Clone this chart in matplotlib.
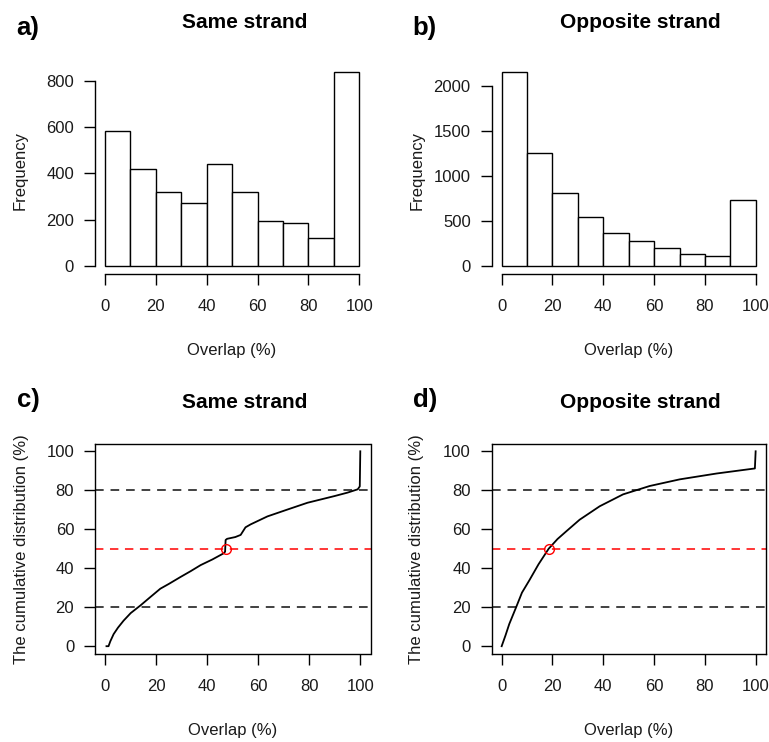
import numpy as np
import matplotlib.pyplot as plt

plt.rcParams['font.family'] = ['Liberation Sans', 'DejaVu Sans']

# histogram data (10% bins)
bin_edges = [0, 10, 20, 30, 40, 50, 60, 70, 80, 90, 100]
same_counts = [585, 418, 320, 273, 441, 320, 193, 187, 121, 840]
opp_counts = [2163, 1253, 807, 540, 361, 272, 197, 134, 105, 729]

# cumulative distribution, points
same_cum_x = [0.5, 1.3, 2.0, 3.3, 5.0, 7.2, 10.0, 13.8, 17.5, 21.6, 25.0, 29.5,
              33.5, 37.4, 42.0, 46.5, 47.0, 47.2, 47.8, 51.0, 53.1, 55.0, 57.0,
              63.6, 71.4, 79.3, 89.8, 95.0, 99.0, 99.8, 100.0]
same_cum_y = [0.0, 0.0, 2.5, 6.2, 9.5, 13.1, 17.0, 20.9, 25.0, 29.5, 32.0, 35.5,
              38.5, 41.6, 44.5, 47.7, 48.5, 54.5, 55.1, 56.0, 57.1, 61.0, 62.5,
              66.6, 70.1, 73.6, 77.0, 78.8, 80.5, 82.0, 100.0]
opp_cum_x = [0.0, 1.5, 3.0, 5.7, 8.0, 10.9, 14.5, 18.5, 22.0, 25.4, 30.7, 38.6,
             47.8, 58.3, 70.1, 84.6, 99.7, 100.0]
opp_cum_y = [0.0, 5.5, 11.4, 20.0, 27.5, 33.8, 42.0, 50.0, 55.0, 58.9, 64.9, 71.8,
             77.9, 82.2, 85.6, 88.6, 91.2, 100.0]
same_median = 47.2
opp_median = 18.7

W, H = 769, 742
fig = plt.figure(figsize=(W / 100, H / 100), dpi=100)


def px_axes(left, right, top, bottom):
    return fig.add_axes([left / W, 1 - bottom / H, (right - left) / W, (bottom - top) / H])


txt = '#1a1a1a'
tick_kw = dict(length=8, width=1, labelsize=12, labelcolor=txt)


def hist_panel(ax, counts, ymax, yticks):
    ax.bar(bin_edges[:-1], counts, width=10, align='edge', color='white',
           edgecolor='black', linewidth=1)
    ax.set_xlim(-4, 104)
    ax.set_ylim(-0.04 * max(counts), 1.04 * max(counts))
    for s in ('top', 'right'):
        ax.spines[s].set_visible(False)
    ax.spines['left'].set_bounds(0, ymax)
    ax.spines['bottom'].set_bounds(0, 100)
    for s in ('left', 'bottom'):
        ax.spines[s].set_linewidth(1)
    ax.set_xticks(range(0, 101, 20))
    ax.set_yticks(yticks)
    ax.tick_params(axis='x', pad=10, **tick_kw)
    ax.tick_params(axis='y', pad=7, **tick_kw)


def cum_panel(ax, x, y, med):
    ax.axhline(80, color='#333333', lw=1.3, ls=(0, (4.8, 3.8)))
    ax.axhline(20, color='#333333', lw=1.3, ls=(0, (4.8, 3.8)))
    ax.axhline(50, color='red', lw=1.1, ls=(0, (5.5, 4.3)))
    ax.plot(x, y, color='black', lw=1.3)
    ax.plot([med], [50], 'o', mfc='none', mec='red', ms=7, mew=1)
    ax.set_xlim(-4, 104)
    ax.set_ylim(-4, 104)
    for s in ax.spines.values():
        s.set_linewidth(1)
    ax.set_xticks(range(0, 101, 20))
    ax.set_yticks(range(0, 101, 20))
    ax.tick_params(axis='x', pad=10, **tick_kw)
    ax.tick_params(axis='y', pad=7, **tick_kw)


ax_a = px_axes(94.8, 369.5, 63.9, 273.5)
hist_panel(ax_a, same_counts, 800, range(0, 801, 200))
ax_b = px_axes(491.5, 765.9, 64, 273.5)
hist_panel(ax_b, opp_counts, 2000, range(0, 2001, 500))
ax_c = px_axes(95, 370.5, 443.5, 654)
cum_panel(ax_c, same_cum_x, same_cum_y, same_median)
ax_d = px_axes(491.5, 765.8, 443.5, 654)
cum_panel(ax_d, opp_cum_x, opp_cum_y, opp_median)


def ftext(x, y, s, **kw):
    fig.text(x / W, 1 - y / H, s, **kw)


# panel letters and titles
for lx, ly, lab in [(16.7, 28, 'a)'), (412.3, 28, 'b)'), (16.7, 400, 'c)'), (413, 400, 'd)')]:
    ftext(lx, ly, lab, fontsize=18.5, fontweight='bold', ha='left', va='center')
for tx, ty, t in [(244.5, 23, 'Same strand'), (640, 23, 'Opposite strand'),
                  (244.5, 402, 'Same strand'), (640, 402, 'Opposite strand')]:
    ftext(tx, ty, t, fontsize=15, fontweight='bold', ha='center', va='center')

# axis labels
for cx, cy in [(232, 350), (628.7, 350), (232.7, 730), (628.7, 730)]:
    ftext(cx, cy, 'Overlap (%)', fontsize=12, color=txt, ha='center', va='center')
ftext(20, 171, 'Frequency', fontsize=12, color=txt, rotation=90, ha='center', va='center')
ftext(417, 171, 'Frequency', fontsize=12, color=txt, rotation=90, ha='center', va='center')
ftext(21.7, 549, 'The cumulative distribution (%)', fontsize=12, color=txt,
      rotation=90, ha='center', va='center')
ftext(417, 549, 'The cumulative distribution (%)', fontsize=12, color=txt,
      rotation=90, ha='center', va='center')

fig.savefig('out.png', dpi=100)
